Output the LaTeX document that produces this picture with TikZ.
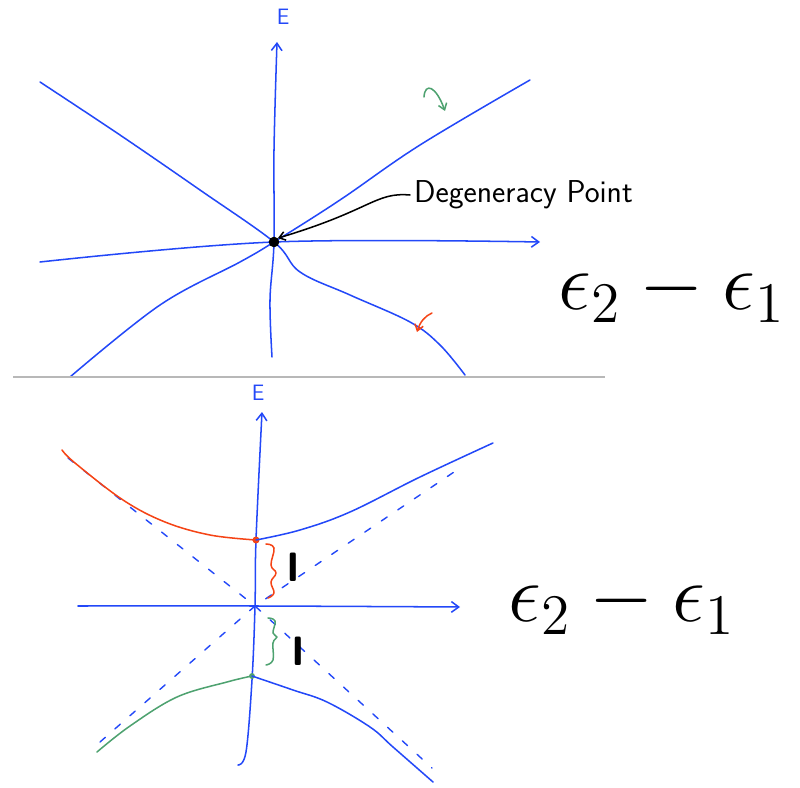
\documentclass[tikz,border=0pt]{standalone}
\usepackage{amsmath,amssymb}
\usepackage{fontspec}
\usepackage{graphicx}
\usepackage{xcolor}
\usepackage{tikz}
\usetikzlibrary{arrows.meta}
\definecolor{penblue}{RGB}{35,72,248}
\definecolor{penred}{RGB}{245,68,22}
\definecolor{pengreen}{RGB}{78,162,112}
\newcommand{\gapexpr}{\scalebox{3.4}{\huge$\epsilon_2 - \epsilon_1$}}

\begin{document}
\begin{tikzpicture}[
  x=0.03cm, y=-0.03cm,
  pen/.style={draw=penblue, line width=1.3pt, line cap=round, line join=round},
  axis/.style={pen, -{Straight Barb[length=2.2mm,width=3.2mm]}},
  asym/.style={draw=penblue, line width=1.2pt, line cap=round, dash pattern=on 6pt off 11pt},
  curve/.style={line width=1.3pt, line cap=round, line join=round},
  hint/.style={curve, -{Straight Barb[length=1.8mm,width=2.6mm]}},
  axlabel/.style={text=penblue, font=\sffamily\fontsize{19}{19}\selectfont},
  gaplabel/.style={font=\sffamily\bfseries\fontsize{35}{35}\selectfont}
]
\useasboundingbox (0,0) rectangle (800,788);

% upper sketch: crossing levels
\coordinate (o1) at (274,242);
\draw[pen] plot[smooth, tension=0.6] coordinates {(40,82) (120,135) (200,190) (o1) (300,272) (350,295) (410,322) (440,345) (465,375)};
\draw[pen] plot[smooth, tension=0.6] coordinates {(530,80) (420,145) (340,200) (o1) (240,262) (160,305) (70,377)};
\draw[axis] plot[smooth, tension=0.6] coordinates {(272,357) (270,300) (o1) (274,150) (277,42)};
\draw[axis] plot[smooth, tension=0.6] coordinates {(40,262) (o1) (540,242)};
\node[axlabel] (e1) at (283,17) {E};
\node (d1) at (672,292) {\gapexpr};

\node[circle, fill=black, inner sep=0pt, minimum size=9pt] (dot) at (o1) {};
\node[font=\sffamily\fontsize{27}{27}\selectfont, anchor=west] (deg) at (410,195) {Degeneracy Point};
\draw[curve, black, -{Straight Barb[length=1.8mm,width=2.6mm]}] (deg.west) .. controls (375,192) and (372,210) .. (dot.north east);

\draw[hint, pengreen] (424,97) .. controls (425,82) and (436,86) .. (445,111);
\draw[hint, penred] (432,313) .. controls (425,316) and (420,322) .. (417,332);

\draw[line width=1.5pt, black!28] (13,377) -- (605,377);

% lower sketch: avoided crossing
\coordinate (o2) at (255,606);
\draw[asym] (68,458) -- (o2) -- (432,768);
\draw[asym] (100,742) -- (o2) -- (460,468);
\draw[axis] plot[smooth, tension=0.6] coordinates {(238,765) (246,752) (252,680) (o2) (256,540) (262,412)};
\draw[axis] plot[smooth, tension=0.6] coordinates {(78,606) (o2) (460,607)};
\node[axlabel] (e2) at (258,393) {E};
\node (d2) at (622,604) {\gapexpr};

\node[circle, fill=penred, inner sep=0pt, minimum size=6pt] (top) at (256,540) {};
\node[circle, fill=pengreen, inner sep=0pt, minimum size=5pt] (bot) at (252,676) {};

\draw[curve, penred] plot[smooth, tension=0.6] coordinates {(62,450) (75,463) (123,500) (165,522) (210,535) (top)};
\draw[pen] plot[smooth, tension=0.6] coordinates {(top) (300,530) (350,512) (420,477) (493,443)};
\draw[curve, pengreen] plot[smooth, tension=0.6] coordinates {(97,752) (130,726) (177,697) (227,682) (bot)};
\draw[pen] plot[smooth, tension=0.6] coordinates {(bot) (293,690) (327,702) (370,727) (393,747) (433,782)};

\draw[curve, penred] plot[smooth, tension=0.7] coordinates {(266,544) (274,548) (271,565) (276,573) (271,582) (274,593) (268,598)};
\draw[curve, pengreen] plot[smooth, tension=0.7] coordinates {(268,618) (275,621) (273,633) (277,637) (273,643) (273,660) (266,665)};
\node[gaplabel] (gap1) at (293,567) {I};
\node[gaplabel] (gap2) at (298,651) {I};
\end{tikzpicture}
\end{document}
